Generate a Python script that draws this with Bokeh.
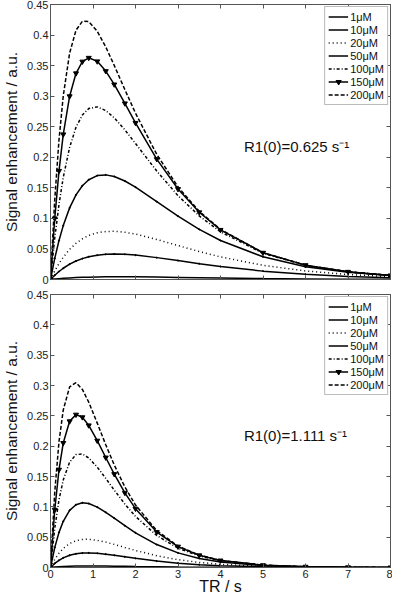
from bokeh.plotting import figure
from bokeh.models import (Range1d, FixedTicker, CustomJSTickFormatter, LinearAxis,
                          Label, Legend, LegendItem)
from bokeh.layouts import column
from bokeh.embed import file_html
from bokeh.resources import INLINE

# ---------------- data ----------------
tr = [0, 0.1, 0.2, 0.3, 0.45, 0.6, 0.75, 0.9, 1.1, 1.3, 1.5, 1.75, 2.0,
      2.5, 3.0, 3.5, 4.0, 5.0, 6.0, 7.0, 8.0]

labels = ["1μM", "10μM", "20μM", "50μM", "100μM", "150μM", "200μM"]

top_1 = [0, 0.0007, 0.0013, 0.0019, 0.0025, 0.0031, 0.0035, 0.0038, 0.0041, 0.0043, 0.0044,
         0.0044, 0.0043, 0.0039, 0.0034, 0.0029, 0.0024, 0.0016, 0.0010, 0.0006, 0.0004]
top_10 = [0, 0.0070, 0.0131, 0.0184, 0.0251, 0.0302, 0.0342, 0.0372, 0.0398, 0.0412, 0.0417,
          0.0412, 0.0399, 0.0358, 0.0309, 0.0259, 0.0213, 0.0137, 0.0085, 0.0051, 0.0030]
top_20 = [0, 0.0140, 0.0261, 0.0365, 0.0493, 0.0592, 0.0666, 0.0720, 0.0765, 0.0786, 0.0789,
          0.0773, 0.0743, 0.0655, 0.0556, 0.0458, 0.0370, 0.0232, 0.0140, 0.0082, 0.0047]
top_50 = [0, 0.0346, 0.0638, 0.0882, 0.1172, 0.1385, 0.1534, 0.1632, 0.1700, 0.1712, 0.1685,
          0.1612, 0.1512, 0.1275, 0.1036, 0.0820, 0.0638, 0.0372, 0.0210, 0.0117, 0.0064]
top_100 = [0, 0.0679, 0.1229, 0.1670, 0.2162, 0.2491, 0.2692, 0.2797, 0.2825, 0.2764, 0.2645,
           0.2448, 0.2226, 0.1775, 0.1372, 0.1041, 0.0780, 0.0429, 0.0233, 0.0125, 0.0067]
top_150 = [0, 0.1000, 0.1778, 0.2375, 0.2999, 0.3374, 0.3566, 0.3628, 0.3570, 0.3410, 0.3192,
           0.2882, 0.2563, 0.1970, 0.1481, 0.1100, 0.0812, 0.0438, 0.0235, 0.0126, 0.0067]
top_200 = [0, 0.1309, 0.2287, 0.3004, 0.3705, 0.4079, 0.4226, 0.4221, 0.4063, 0.3806, 0.3503,
           0.3107, 0.2722, 0.2047, 0.1516, 0.1116, 0.0819, 0.0439, 0.0235, 0.0126, 0.0067]

bot_1 = [0, 0.0007, 0.0012, 0.0016, 0.0020, 0.0023, 0.0024, 0.0025, 0.0024, 0.0023, 0.0021,
         0.0019, 0.0016, 0.0012, 0.0008, 0.0005, 0.0003, 0.0001, 0.0001, 0.0000, 0.0000]
bot_10 = [0, 0.0067, 0.0119, 0.0159, 0.0201, 0.0226, 0.0238, 0.0240, 0.0233, 0.0219, 0.0201,
          0.0176, 0.0151, 0.0106, 0.0072, 0.0047, 0.0030, 0.0012, 0.0005, 0.0002, 0.0001]
bot_20 = [0, 0.0133, 0.0237, 0.0315, 0.0396, 0.0442, 0.0462, 0.0465, 0.0448, 0.0418, 0.0381,
          0.0330, 0.0281, 0.0194, 0.0129, 0.0084, 0.0053, 0.0020, 0.0008, 0.0003, 0.0001]
bot_50 = [0, 0.0329, 0.0579, 0.0762, 0.0942, 0.1035, 0.1066, 0.1054, 0.0996, 0.0910, 0.0813,
          0.0689, 0.0572, 0.0378, 0.0241, 0.0150, 0.0091, 0.0033, 0.0011, 0.0004, 0.0001]
bot_100 = [0, 0.0647, 0.1115, 0.1444, 0.1738, 0.1861, 0.1870, 0.1806, 0.1655, 0.1469, 0.1276,
           0.1046, 0.0842, 0.0527, 0.0319, 0.0190, 0.0112, 0.0038, 0.0013, 0.0004, 0.0001]
bot_150 = [0, 0.0952, 0.1613, 0.2053, 0.2410, 0.2520, 0.2477, 0.2343, 0.2091, 0.1813, 0.1540,
           0.1231, 0.0970, 0.0585, 0.0345, 0.0201, 0.0116, 0.0039, 0.0013, 0.0004, 0.0001]
bot_200 = [0, 0.1246, 0.2075, 0.2597, 0.2977, 0.3047, 0.2935, 0.2725, 0.2380, 0.2023, 0.1690,
           0.1327, 0.1030, 0.0607, 0.0353, 0.0204, 0.0117, 0.0039, 0.0013, 0.0004, 0.0001]

top_series = [top_1, top_10, top_20, top_50, top_100, top_150, top_200]
bot_series = [bot_1, bot_10, bot_20, bot_50, bot_100, bot_150, bot_200]

x_ticks = [0, 1, 2, 3, 4, 5, 6, 7, 8]
y_ticks = [0, 0.05, 0.1, 0.15, 0.2, 0.25, 0.3, 0.35, 0.4, 0.45]

# ---------------- styles ----------------
FONT = "Liberation Sans"
AX = "#555555"
dashes = ["solid", "solid", "1 3", "solid", "3 2 1 2", "solid", "4 2"]
markers = [None, "circle", None, "circle", None, "inverted_triangle", None]
msizes = [0, 1.2, 0, 1.2, 0, 5, 0]
marker_in_legend = [False, False, False, False, False, True, False]

fmt = CustomJSTickFormatter(code="""
var s = tick.toFixed(2);
s = s.replace(/0+$/, '');
s = s.replace(/\\.$/, '');
return s;
""")


def style_axis(ax, show_labels, ticks, formatter=None):
    ax.ticker = FixedTicker(ticks=ticks)
    ax.major_tick_in = 4
    ax.major_tick_out = 0
    ax.minor_tick_line_color = None
    ax.major_tick_line_color = AX
    ax.axis_line_color = AX
    ax.major_label_text_font = FONT
    ax.major_label_text_color = "#222222"
    ax.major_label_text_font_size = "11px"
    if show_labels:
        if formatter is not None:
            ax.formatter = formatter
        ax.major_label_standoff = 2
    else:
        ax.major_label_overrides = {t: "" for t in ticks}
        ax.major_label_standoff = 0


def make_fig(series, r1_text, show_x, height, border_top, border_bottom):
    p = figure(width=392, height=height, x_range=Range1d(0, 8), y_range=Range1d(0, 0.45),
               output_backend="svg", toolbar_location=None,
               min_border_left=0, min_border_right=2, min_border_top=border_top,
               min_border_bottom=border_bottom)
    p.xgrid.visible = False
    p.ygrid.visible = False
    p.outline_line_color = AX
    p.background_fill_color = "white"
    p.border_fill_color = "white"

    style_axis(p.xaxis[0], show_x, x_ticks)
    style_axis(p.yaxis[0], True, y_ticks, fmt)
    p.yaxis[0].axis_label = "Signal enhancement / a.u."
    p.yaxis[0].axis_label_text_font = FONT
    p.yaxis[0].axis_label_text_font_size = "15.5px"
    p.yaxis[0].axis_label_text_font_style = "normal"
    p.yaxis[0].axis_label_text_color = "#111111"
    p.yaxis[0].axis_label_standoff = 4
    if show_x:
        p.xaxis[0].axis_label = "TR / s"
        p.xaxis[0].axis_label_text_font = FONT
        p.xaxis[0].axis_label_text_font_size = "16px"
        p.xaxis[0].axis_label_text_font_style = "normal"
        p.xaxis[0].axis_label_text_color = "#111111"
        p.xaxis[0].axis_label_standoff = -3

    top_ax = LinearAxis()
    style_axis(top_ax, False, x_ticks)
    p.add_layout(top_ax, "above")
    right_ax = LinearAxis()
    style_axis(right_ax, False, y_ticks)
    p.add_layout(right_ax, "right")

    items = []
    for lab, ys, dash, mk, ms, inleg in zip(labels, series, dashes, markers, msizes,
                                            marker_in_legend):
        r = p.line(tr, ys, line_color="black", line_width=1.5, line_dash=dash)
        rends = [r]
        if mk is not None:
            s = p.scatter(tr, ys, marker=mk, size=ms, fill_color="black",
                          line_color="black")
            if inleg:
                rends.append(s)
        items.append(LegendItem(label=lab, renderers=rends))

    leg = Legend(items=items, location="top_right")
    leg.margin = 2
    leg.padding = 3
    leg.spacing = 0
    leg.glyph_width = 20
    leg.glyph_height = 13
    leg.label_height = 13
    leg.label_standoff = 2
    leg.label_text_font = FONT
    leg.label_text_font_size = "11px"
    leg.label_text_color = "#111111"
    leg.border_line_color = "#777777"
    leg.border_line_width = 1
    leg.background_fill_color = "white"
    leg.background_fill_alpha = 1
    p.add_layout(leg)

    p.add_layout(Label(x=4.55, y=0.217, text=r1_text, text_font=FONT,
                       text_font_size="15px", text_baseline="middle",
                       text_color="#111111"))
    return p


p1 = make_fig(top_series, "R1(0)=0.625 s⁻¹", False, 287, 4, 8)
p2 = make_fig(bot_series, "R1(0)=1.111 s⁻¹", True, 310, 7, 0)

layout = column(p1, p2, spacing=0)
open("out.html", "w").write(file_html(layout, INLINE))
